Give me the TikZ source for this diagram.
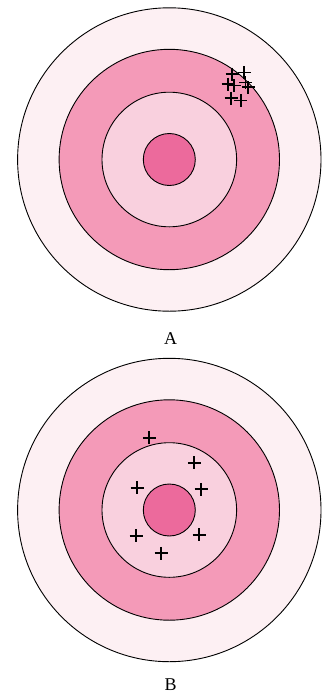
\documentclass[tikz,border=0pt]{standalone}
\usepackage{fontspec}
\setmainfont{Liberation Serif}
\definecolor{ringA}{HTML}{FDF0F3}
\definecolor{ringB}{HTML}{F49AB8}
\definecolor{ringC}{HTML}{F9D0DE}
\definecolor{ringD}{HTML}{EC6A9C}
\tikzset{
  ring/.style={draw=black, line width=0.9pt},
  hit/.style={draw=black, line width=1.7pt},
  lbl/.style={font=\fontsize{18}{20}\selectfont, inner sep=0pt}
}
\newcommand{\hitmark}[2]{\draw[hit] (#1-6.5,-#2) -- (#1+6.5,-#2) (#1,-#2+6.5) -- (#1,-#2-6.5);}
\begin{document}
\begin{tikzpicture}[x=1pt,y=1pt]
\useasboundingbox (0,0) rectangle (325,-694);
% Target A
\coordinate (ca) at (169.3,-159.5);
\fill[ringA, ring] (ca) circle (151.7);
\fill[ringB, ring] (ca) circle (110.2);
\fill[ringC, ring] (ca) circle (67.3);
\fill[ringD, ring] (ca) circle (26);
\hitmark{232}{74}
\hitmark{244}{72.5}
\hitmark{228}{84}
\hitmark{234}{85.5}
\hitmark{245.5}{82.5}
\hitmark{248}{87}
\hitmark{231}{98}
\hitmark{240.7}{100.5}
\node[lbl] (la) at (170.7,-338.5) {A};
% Target B
\coordinate (cb) at (169.3,-510);
\fill[ringA, ring] (cb) circle (151.7);
\fill[ringB, ring] (cb) circle (110.2);
\fill[ringC, ring] (cb) circle (67.3);
\fill[ringD, ring] (cb) circle (26);
\hitmark{149.3}{437.7}
\hitmark{194.3}{462.7}
\hitmark{137}{487.7}
\hitmark{201}{489.3}
\hitmark{136}{535.7}
\hitmark{199}{534.7}
\hitmark{161}{553.3}
\node[lbl] (lb) at (170.7,-684.5) {B};
\end{tikzpicture}
\end{document}
